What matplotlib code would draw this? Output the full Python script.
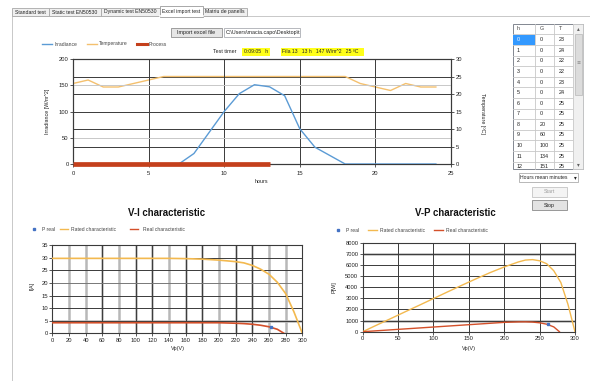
import matplotlib
matplotlib.use('Agg')
import matplotlib.pyplot as plt
from matplotlib.patches import Rectangle
from matplotlib import font_manager

# ---------------- data ----------------
tab_labels = ["Standard test", "Static test EN50530", "Dynamic test EN50530",
              "Excel import test", "Matriu de panells"]
selected_tab = "Excel import test"

hours = list(range(25))
irradiance = [0, 0, 0, 0, 0, 0, 0, 0, 20, 60, 100, 134, 151, 147, 130, 67, 32, 16,
              0, 0, 0, 0, 0, 0, 0]
temperature = [23, 24, 22, 22, 23, 24, 25, 25, 25, 25, 25, 25, 25, 25, 25, 25, 25,
               25, 25, 23, 22, 21, 23, 22, 22]
process_hours = [0, 13]
process_level = [0, 0]

hour_ticks = [0, 5, 10, 15, 20, 25]
irr_ticks = [0, 50, 100, 150, 200]
temp_ticks = [0, 5, 10, 15, 20, 25, 30]

rated_v = [0, 20, 40, 60, 80, 100, 120, 140, 160, 180, 200, 220, 230, 240, 250,
           260, 270, 280, 290, 300]
rated_i = [29.8, 29.8, 29.8, 29.8, 29.8, 29.8, 29.8, 29.8, 29.7, 29.5, 29.1, 28.5,
           28.0, 27.0, 25.5, 23.5, 20.3, 15.8, 8.5, 0]
rated_p = [0, 600, 1190, 1790, 2380, 2980, 3580, 4170, 4750, 5310, 5820, 6270,
           6440, 6480, 6375, 6110, 5480, 4420, 2470, 0]

real_v = [0, 20, 40, 60, 80, 100, 120, 140, 160, 180, 200, 220, 230, 240, 250, 260,
          270, 278]
real_i = [4.2, 4.2, 4.2, 4.2, 4.2, 4.2, 4.2, 4.2, 4.2, 4.2, 4.2, 4.0, 3.85, 3.6,
          3.2, 2.6, 1.6, 0]
real_p = [0, 84, 168, 252, 336, 420, 504, 588, 672, 756, 840, 880, 885, 864, 800,
          676, 432, 0]

preal_v = [262]
preal_i = [2.6]
preal_p = [650]

vi_xticks = list(range(0, 301, 20))
vi_yticks = list(range(0, 36, 5))
vp_xticks = list(range(0, 301, 50))
vp_yticks = list(range(0, 8001, 1000))

table_cols = ["h", "G", "T"]
table_rows = 13

# ---------------- fonts ----------------
names = {f.name for f in font_manager.fontManager.ttflist}
NARROW = 'Liberation Sans Narrow' if 'Liberation Sans Narrow' in names else 'Liberation Sans'
SANS = 'Liberation Sans' if 'Liberation Sans' in names else 'DejaVu Sans'
FS = 4.5 if NARROW == 'Liberation Sans Narrow' else 3.9
TFS_TICK = FS + 0.3
plt.rcParams['font.family'] = [NARROW, 'DejaVu Sans']
plt.rcParams['font.size'] = FS
TXT = '#222222'

W, H = 590, 381
fig = plt.figure(figsize=(W / 100, H / 100), dpi=100, facecolor='white')


def rect(x0, y0, x1, y1):
    return [x0 / W, 1 - y1 / H, (x1 - x0) / W, (y1 - y0) / H]


ov = fig.add_axes([0, 0, 1, 1])
ov.set_xlim(0, W)
ov.set_ylim(H, 0)
ov.axis('off')


def box(x0, y0, x1, y1, fc, ec, lw=0.6, z=1):
    r = Rectangle((x0, y0), x1 - x0, y1 - y0, fc=fc, ec=ec, lw=lw, zorder=z)
    ov.add_patch(r)
    return r


def txt(x, y, s, ha='left', **kw):
    kw.setdefault('color', TXT)
    kw.setdefault('fontsize', FS)
    return ov.text(x, y, s, ha=ha, va='center', zorder=5, **kw)


# ---------------- GUI frame / tabs ----------------
box(12, 16, 600, 400, 'white', '#c8c8c8', lw=0.7, z=0)
tab_edges = [12, 49, 101, 160, 203, 247]
for i, lab in enumerate(tab_labels):
    x0, x1 = tab_edges[i], tab_edges[i + 1]
    if lab == selected_tab:
        box(x0, 6, x1, 16.6, 'white', '#9a9a9a', z=3)
        ov.plot([x0 + 0.4, x1 - 0.4], [16.3, 16.3], color='white', lw=1.2, zorder=4)
        txt((x0 + x1) / 2, 11, lab, ha='center', fontsize=FS - 0.2)
    else:
        box(x0, 8, x1, 16, '#f0f0f0', '#a8a8a8', z=2)
        txt((x0 + x1) / 2, 12, lab, ha='center', fontsize=FS - 0.2)

# import button + path box
box(171, 28, 222, 37, '#e6e6e6', '#8f8f8f')
txt(196.5, 32.5, "Import excel file", ha='center')
box(224, 28, 300, 37, 'white', '#abadb3')
txt(226, 32.5, "C:\\Users\\macia.capo\\Desktop\\t")

# top legend
ov.plot([42, 52], [44, 44], color='#5b9bd5', lw=1.0)
txt(54.5, 44, "Irradiance", color='#444444', fontsize=FS - 0.3)
ov.plot([87, 97], [44, 44], color='#f4c06e', lw=1.0)
txt(99, 44, "Temperature", color='#444444', fontsize=FS - 0.3)
ov.plot([137, 147], [44, 44], color='#c4401c', lw=2.2)
txt(149, 44, "Process", color='#444444', fontsize=FS - 0.3)

# timer labels
txt(213, 51.7, "Test timer")
box(242, 48, 270, 55.5, '#ffff1a', 'none', lw=0)
txt(243.5, 51.7, "0:09:05   h", fontsize=FS - 0.2)
box(281, 48, 363.5, 55.5, '#ffff1a', 'none', lw=0)
txt(282.5, 51.7, "Fila 13   13 h   147 W/m^2   25 \u00baC", fontsize=FS - 0.2)

# top chart axis labels
txt(47, 111, "Irradiance [W/m^2]", ha='center', rotation=90)
txt(482, 113, "Temperature [\u00baC]", ha='center', rotation=270)
txt(261.5, 181.5, "hours", ha='center')

# ---------------- table ----------------
tx = [512.5, 535, 554.3, 573.3]
ty0, hdr_h, row_h = 23.5, 10.8, 10.6
tbot = 169
clip = Rectangle((512, 23), 72, tbot - 23, transform=ov.transData, fc='none', ec='none')
ov.add_patch(clip)
box(512.5, 23.5, 583.3, tbot, 'white', '#828790', lw=0.7, z=1)
for c, name in enumerate(table_cols):
    txt(tx[c] + 4.5, ty0 + hdr_h / 2, name, color='#444444')
for c in tx[1:]:
    ov.plot([c, c], [ty0, tbot], color='#c8c8c8', lw=0.6, zorder=2)
for r in range(table_rows + 1):
    yline = ty0 + hdr_h + r * row_h
    if yline < tbot:
        ov.plot([tx[0], tx[3]], [yline, yline], color='#c8c8c8', lw=0.6, zorder=2)
# selected cell
box(tx[0] + 0.5, ty0 + hdr_h + 0.3, tx[1] - 0.3, ty0 + hdr_h + row_h - 0.3, '#3399ff', 'none', lw=0, z=2)
for r in range(table_rows):
    yc = ty0 + hdr_h + r * row_h + row_h / 2
    vals = [hours[r], irradiance[r], temperature[r]]
    for c, v in enumerate(vals):
        t = txt(tx[c] + 4.5, yc, str(v), color='white' if (r == 0 and c == 0) else TXT)
        t.set_clip_path(clip)
# scrollbar
box(573.3, 23.5, 583.3, tbot, '#f0f0f0', '#c8c8c8', lw=0.5, z=2)
box(574.5, 34, 582, 95, '#dcdcdc', '#b8b8b8', lw=0.5, z=3)
txt(578.2, 28.5, "\u25b4", ha='center', family='DejaVu Sans', fontsize=4, color='#606060')
txt(578.2, 164.5, "\u25be", ha='center', family='DejaVu Sans', fontsize=4, color='#606060')
txt(578.2, 63, "\u2261", ha='center', family='DejaVu Sans', fontsize=3.5, color='#808080')

# combobox / buttons
box(519.3, 172.7, 578.3, 181.7, 'white', '#acacac')
txt(520.5, 177.2, "Hours mean minutes", fontsize=FS - 0.2)
txt(575, 177.2, "\u25be", ha='center', family='DejaVu Sans', fontsize=4.0)
box(531.7, 186.7, 566.7, 196.7, '#f4f4f4', '#c4c4c4')
txt(549.2, 191.7, "Start", ha='center', color='#a0a0a0')
box(531.7, 200, 566.7, 210, '#e3e3e3', '#8a8a8a')
txt(549.2, 205, "Stop", ha='center')

# ---------------- lower titles / legends / labels ----------------
TFS = 6.9
ov.text(166.7, 213.3, "V-I characteristic", ha='center', va='center', fontsize=TFS,
        fontweight='bold', family=[SANS, 'DejaVu Sans'], color='#111111')
ov.text(455, 213.3, "V-P characteristic", ha='center', va='center', fontsize=TFS,
        fontweight='bold', family=[SANS, 'DejaVu Sans'], color='#111111')

RATED_C = '#f3b94f'
REAL_C = '#d4502a'
PREAL_C = '#4472c4'
LFS = FS - 0.3
for (mx, tx1, l1, t1, l2, t2, ly) in [(34.3, 41.7, (60, 68.3), 71, (130, 138.3), 142.7, 229.3),
                                      (338.3, 346, (368.3, 377.3), 380, (434.3, 443.3), 446, 230)]:
    ov.plot([mx], [ly], marker='s', ms=1.6, color=PREAL_C, ls='none')
    txt(tx1, ly, "P real", color='#444444', fontsize=LFS)
    ov.plot(list(l1), [ly, ly], color=RATED_C, lw=1.0)
    txt(t1, ly, "Rated characteristic", color='#444444', fontsize=LFS)
    ov.plot(list(l2), [ly, ly], color=REAL_C, lw=1.0)
    txt(t2, ly, "Real characteristic", color='#444444', fontsize=LFS)

txt(31.7, 286, "I[A]", ha='center', rotation=90)
txt(334.3, 286.7, "P[W]", ha='center', rotation=90)
txt(178.3, 348.5, "Vp(V)", ha='center')
txt(469.3, 348.5, "Vp(V)", ha='center')

# ---------------- chart styling helper ----------------
DARK = '#3a3a3a'
GRAYG = '#b8b8b8'


def style(ax):
    for s in ax.spines.values():
        s.set_color(DARK)
        s.set_linewidth(0.8)
    ax.tick_params(length=2.2, width=0.6, color=DARK, labelsize=TFS_TICK, pad=1,
                   labelcolor=TXT)


# ---------------- top chart ----------------
axI = fig.add_axes(rect(73, 59, 451, 164))
axT = axI.twinx()
axI.set_zorder(axT.get_zorder() + 1)
axI.patch.set_visible(False)

axI.set_xlim(0, 25)
axI.set_ylim(0, 200)
axT.set_ylim(0, 30)
axI.set_xticks(hour_ticks)
axI.set_yticks(irr_ticks)
axT.set_yticks(temp_ticks)
style(axI)
style(axT)
axI.tick_params(axis='x', pad=2.5)

axT.grid(axis='y', color=DARK, lw=0.7)
axI.grid(axis='x', color=DARK, lw=0.7)
axI.grid(axis='y', color='#c8c8c8', lw=0.7)
for v, gl in zip(irr_ticks, axI.yaxis.get_gridlines()):
    if (v * 30 / 200) in temp_ticks:
        gl.set_visible(False)

axT.plot(hours, temperature, color='#f4c06e', lw=1.0, zorder=3)
axI.plot(hours, irradiance, color='#5b9bd5', lw=1.0, zorder=3)
axI.plot(process_hours, process_level, color='#c4401c', lw=3.4,
         solid_capstyle='butt', zorder=4, clip_on=False)

# ---------------- V-I chart ----------------
axVI = fig.add_axes(rect(52.3, 245.3, 302.3, 333.3))
axVI.set_xlim(0, 300)
axVI.set_ylim(0, 35)
axVI.set_xticks(vi_xticks)
axVI.set_yticks(vi_yticks)
style(axVI)
vi_dark_x = [60, 100, 120, 160, 180, 220, 240]
for v in vi_xticks[1:-1]:
    axVI.axvline(v, color=GRAYG, lw=1.8, zorder=0.5)
    if v in vi_dark_x:
        axVI.axvline(v, color=DARK, lw=0.7, zorder=0.6)
for v in vi_yticks[1:-1]:
    if v == 5:
        axVI.axhline(v, color=GRAYG, lw=1.8, zorder=0.5)
    axVI.axhline(v, color='#777777' if v == 20 else DARK, lw=0.7, zorder=0.6)
axVI.plot(rated_v, rated_i, color=RATED_C, lw=1.2, zorder=3)
axVI.plot(real_v, real_i, color=REAL_C, lw=1.2, zorder=3)
axVI.plot(preal_v, preal_i, marker='s', ms=1.6, color=PREAL_C, ls='none', zorder=4)

# ---------------- V-P chart ----------------
axVP = fig.add_axes(rect(362.7, 242.7, 575, 331.7))
axVP.set_xlim(0, 300)
axVP.set_ylim(0, 8000)
axVP.set_xticks(vp_xticks)
axVP.set_yticks(vp_yticks)
style(axVP)
for v in vp_xticks[1:-1]:
    axVP.axvline(v, color=DARK, lw=0.7, zorder=0.6)
for v in vp_yticks[1:-1]:
    if v in (1000, 7000):
        axVP.axhline(v, color=GRAYG, lw=1.8, zorder=0.5)
    axVP.axhline(v, color=DARK, lw=0.7, zorder=0.6)
axVP.plot(rated_v, rated_p, color=RATED_C, lw=1.0, zorder=3)
axVP.plot(real_v, real_p, color=REAL_C, lw=1.0, zorder=3)
axVP.plot(preal_v, preal_p, marker='s', ms=1.6, color=PREAL_C, ls='none', zorder=4)

fig.savefig('out.png', dpi=100, facecolor='white')
